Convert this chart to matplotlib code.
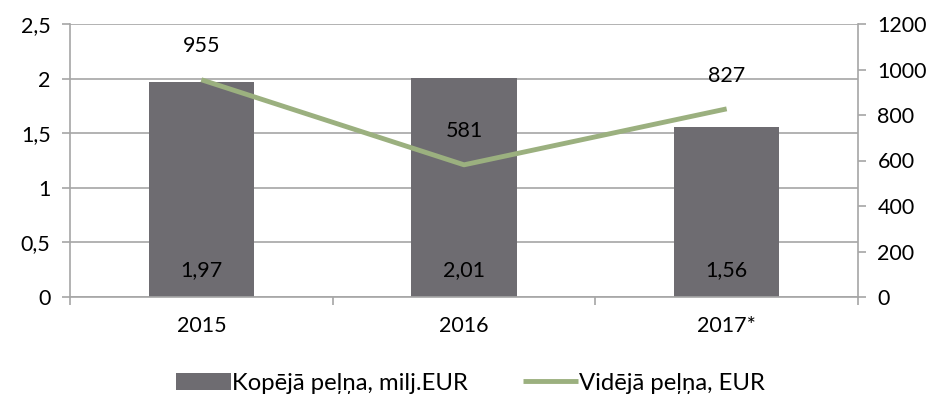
import matplotlib.pyplot as plt
import numpy as np

# Data
years = ['2015', '2016', '2017*']
total_profit = [1.97, 2.01, 1.56]      # milj. EUR (left axis)
avg_profit = [955, 581, 827]           # EUR (right axis)
total_labels = ['1,97', '2,01', '1,56']
left_ticks = [0, 0.5, 1, 1.5, 2, 2.5]
left_tick_labels = ['0', '0,5', '1', '1,5', '2', '2,5']
right_ticks = [0, 200, 400, 600, 800, 1000, 1200]

plt.rcParams['font.family'] = ['Lato', 'DejaVu Sans']

bar_color = '#6e6c71'
line_color = '#9bb07f'
grid_color = '#a6a6a6'
fs = 15.5

fig = plt.figure(figsize=(9.41, 4.0), dpi=100)
ax = fig.add_axes([0.0744, 0.2575, 0.8374, 0.6825])
x = np.arange(len(years))

ax.bar(x, total_profit, width=0.4, color=bar_color, zorder=2, label='Kopējā peļņa, milj.EUR')
ax.set_ylim(0, 2.5)
ax.set_xlim(-0.5, len(years) - 0.5)
ax.set_yticks(left_ticks)
ax.set_yticklabels(left_tick_labels, fontsize=fs)
ax.set_xticks(x)
ax.set_xticklabels(years, fontsize=fs)
ax.set_xticks([-0.5, 0.5, 1.5, 2.5], minor=True)
ax.tick_params(axis='x', which='major', length=0, pad=14)
ax.tick_params(axis='x', which='minor', length=6, color=grid_color, width=1.2)
ax.tick_params(axis='y', length=6, color=grid_color, width=1.2, pad=8)
ax.yaxis.grid(True, color=grid_color, linewidth=1.2, zorder=0)
ax.set_axisbelow(True)
for s in ['top', 'right']:
    ax.spines[s].set_visible(False)
for s in ['left', 'bottom']:
    ax.spines[s].set_color(grid_color)
    ax.spines[s].set_linewidth(1.2)

for xi, lab in zip(x, total_labels):
    ax.text(xi, 0.25, lab, ha='center', va='center', fontsize=fs, color='black', zorder=5)

ax2 = ax.twinx()
ax2.plot(x, avg_profit, color=line_color, linewidth=3.5, solid_capstyle='butt', zorder=3,
         label='Vidējā peļņa, EUR')
ax2.set_ylim(0, 1200)
ax2.set_yticks(right_ticks)
ax2.set_yticklabels([str(v) for v in right_ticks], fontsize=fs)
ax2.tick_params(axis='y', length=6, color=grid_color, width=1.2, pad=8)
for s in ['top', 'left', 'bottom']:
    ax2.spines[s].set_visible(False)
ax2.spines['right'].set_color(grid_color)
ax2.spines['right'].set_linewidth(1.2)

for xi, v in zip(x, avg_profit):
    ax2.annotate(str(v), (xi, v), xytext=(0, 24), textcoords='offset points',
                 ha='center', va='center', fontsize=fs, color='black')

h1, l1 = ax.get_legend_handles_labels()
h2, l2 = ax2.get_legend_handles_labels()
fig.legend(h1 + h2, l1 + l2, loc='center', bbox_to_anchor=(0.5, 0.042), ncol=2,
           frameon=False, fontsize=17.2, handlelength=2.3, handletextpad=0.05,
           columnspacing=2.3)

fig.savefig('out.png', dpi=100)
